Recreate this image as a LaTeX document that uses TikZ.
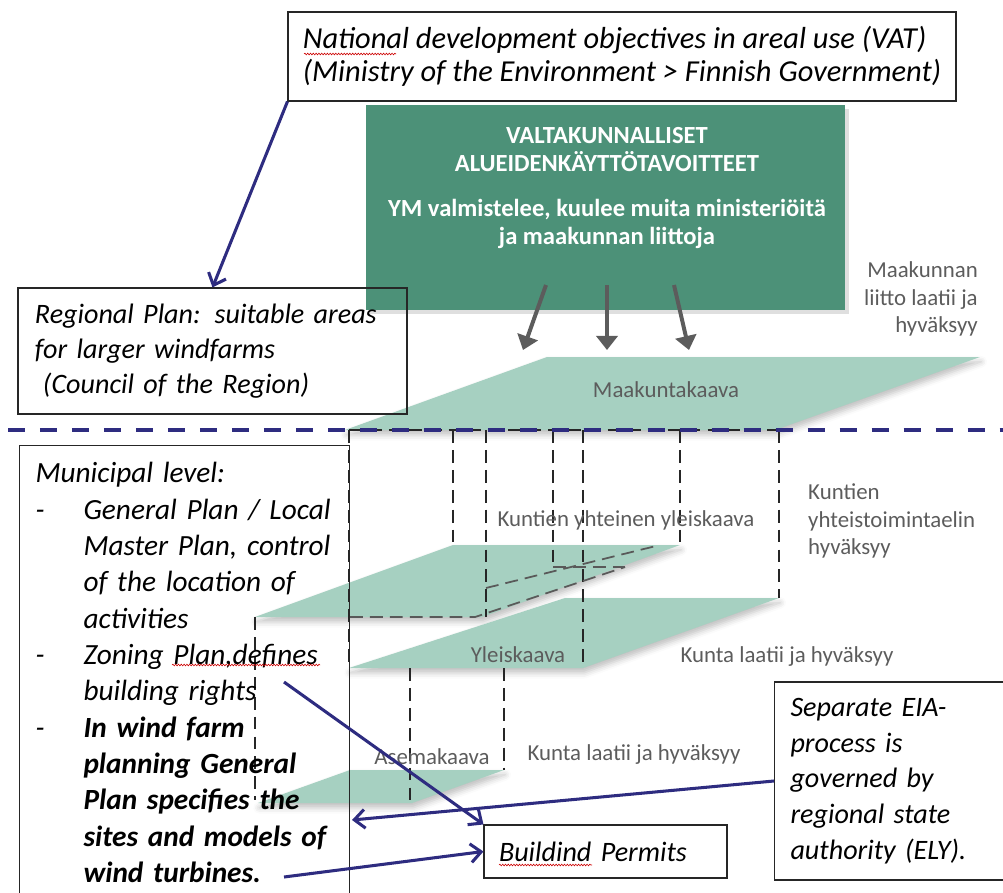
\documentclass[tikz,border=0pt]{standalone}
\usepackage{fontspec}
\setmainfont{Carlito}
\usetikzlibrary{arrows.meta,positioning,shadows,shadows.blur,decorations.pathmorphing}

\definecolor{navyline}{RGB}{46,44,128}
\definecolor{valtagreen}{RGB}{76,145,120}
\definecolor{planegreen}{RGB}{166,208,193}
\definecolor{tagtext}{RGB}{92,92,92}

\tikzset{
  note/.style={draw=black!85, line width=0.9pt, align=left, inner ysep=0pt},
  link/.style={navyline, line width=2.6pt, -{Straight Barb[length=9pt,width=16pt]}},
  feed/.style={tagtext, line width=3.4pt, -{Triangle[length=12pt,width=18pt]}},
  plane/.style={fill=planegreen, blur shadow={shadow xshift=1pt, shadow yshift=-4pt, shadow blur radius=5pt, shadow opacity=25}},
  proj/.style={black!85, line width=2.4pt, dash pattern=on 11pt off 6pt},
  hidden/.style={black!65, line width=1.5pt, dash pattern=on 11pt off 6pt},
  tag/.style={text=tagtext, font=\fontsize{19.5}{23.5}\selectfont, inner sep=0pt},
  squiggle/.style={red!80!black, line width=0.5pt, decorate, decoration={snake, amplitude=0.7pt, segment length=2.4pt}},
}

\begin{document}
\begin{tikzpicture}[x=0.03cm,y=-0.03cm]
  \useasboundingbox (0,0) rectangle (1003,893);
  \begin{scope}
  \clip (0,0) rectangle (1003,893);

  % green box and its arrows
  \node[fill=valtagreen, minimum width=14.37cm, minimum height=6.15cm, drop shadow={opacity=0.25, shadow xshift=3pt, shadow yshift=-3pt}] (valta) at (605.5,207.5) {};
  \node[text=white, align=center, font=\bfseries\fontsize{21}{24}\selectfont] (valtatext) at (607,188)
    {VALTAKUNNALLISET\\ALUEIDENKÄYTTÖTAVOITTEET\\[14pt]YM valmistelee, kuulee muita ministeriöitä\\ja maakunnan liittoja};

  % planes
  \coordinate (mk-sw) at (345,430);
  \coordinate (mk-se) at (775,430);
  \coordinate (mk-ne) at (980,357);
  \coordinate (mk-nw) at (547,357);
  \fill[plane] (mk-sw) -- (mk-se) -- (mk-ne) -- (mk-nw) -- cycle;
  \fill[plane] (255,617) -- (482,617) -- (680,545) -- (453,545) -- cycle;
  \fill[plane] (349,668) -- (583,668) -- (779,598) -- (565,598) -- cycle;
  \fill[plane] (258,803) -- (412,803) -- (504,770) -- (350,770) -- cycle;

  \coordinate (v1) at (546,285);
  \coordinate (v2) at (607,285);
  \coordinate (v3) at (674,285);
  \coordinate (m1) at (523,350);
  \coordinate (m2) at (607,350);
  \coordinate (m3) at (689,350);
  \draw[feed] (v1) -- (m1);
  \draw[feed] (v2) -- (m2);
  \draw[feed] (v3) -- (m3);

  % projections of the plans
  \draw[proj] (349,430) -- (779,430);
  \draw[proj] (349,430) -- (349,668);
  \draw[proj] (453,430) -- (453,545);
  \draw[proj] (486,430) -- (486,617);
  \draw[proj] (553,430) -- (553,567);
  \draw[proj] (583,430) -- (583,668);
  \draw[proj] (680,430) -- (680,545);
  \draw[proj] (779,430) -- (779,598);
  \draw[hidden] (350,617) -- (475,617) -- (625,567);
  \draw[hidden] (486,588) -- (660,545);
  \draw[hidden] (553,567) -- (625,567);
  \draw[proj] (255,617) -- (255,800);
  \draw[proj] (410,668) -- (410,805);
  \draw[proj] (504,668) -- (504,770);

  % level border
  \draw[navyline, line width=3.4pt, dash pattern=on 14.5pt off 12.8pt] (8,430) -- (1010,430);

  % plan labels
  \node[tag] (maakunta) at (666,390) {Maakuntakaava};
  \node[tag, anchor=east, align=right] (maakliitto) at (978,299) {Maakunnan\\liitto laatii ja\\hyväksyy};
  \node[tag] (kuntien) at (626,520) {Kuntien yhteinen yleiskaava};
  \node[tag, anchor=west, align=left] (kuntienhyv) at (808,521) {Kuntien\\yhteistoimintaelin\\hyväksyy};
  \node[tag] (yleis) at (518,655) {Yleiskaava};
  \node[tag] (yleishyv) at (787,657) {Kunta laatii ja hyväksyy};
  \node[tag] (asema) at (432,757) {Asemakaava};
  \node[tag] (asemahyv) at (634,755) {Kunta laatii ja hyväksyy};

  % notes
  \node[note, inner xsep=0pt, minimum width=20.04cm, minimum height=2.67cm, font=\itshape\fontsize{26}{28}\selectfont] (vat) at (622,56.5)
    {National development objectives in areal use (VAT)\\(Ministry of the Environment > Finnish Government)};
  \node[note, inner xsep=0.51cm, text width=10.65cm, minimum height=3.78cm, font=\itshape\fontsize{24}{30}\selectfont] (regional) at (212.5,351)
    {\mbox{Regional Plan: suitable areas}\\\mbox{for larger windfarms}\\\mbox{\hspace*{0.24cm}(Council of the Region)}};
  \node[note, anchor=north west, inner xsep=0.48cm, text width=8.94cm, minimum height=13.62cm, font=\itshape\fontsize{25}{31}\selectfont] (muni) at (19,445)
    {\mbox{Municipal level:}\\
     \mbox{\makebox[1.44cm][l]{-}General Plan / Local}\\
     \mbox{\hspace*{1.44cm}Master Plan, control}\\
     \mbox{\hspace*{1.44cm}of the location of}\\
     \mbox{\hspace*{1.44cm}activities}\\
     \mbox{\makebox[1.44cm][l]{-}Zoning Plan,defines}\\
     \mbox{\hspace*{1.44cm}building rights}\\
     \mbox{\makebox[1.44cm][l]{-}\textbf{In wind farm}}\\
     \mbox{\hspace*{1.44cm}\textbf{planning General}}\\
     \mbox{\hspace*{1.44cm}\textbf{Plan specifies the}}\\
     \mbox{\hspace*{1.44cm}\textbf{sites and models of}}\\
     \mbox{\hspace*{1.44cm}\textbf{wind turbines.}}};
  \node[note, anchor=west, inner xsep=0.48cm, text width=6.72cm, minimum height=5.94cm, font=\itshape\fontsize{24}{30.5}\selectfont] (eia) at (774,781)
    {Separate EIA-\\process is\\governed by\\regional state\\authority (ELY).};
  \node[note, inner xsep=0.45cm, text width=6.39cm, minimum height=1.59cm, font=\itshape\fontsize{24}{28}\selectfont] (permits) at (605.5,851.5)
    {\mbox{Buildind Permits}};

  % spelling marks
  \draw[squiggle] (304,54) -- (396,54);
  \draw[squiggle] (172,665) -- (320,665);
  \draw[squiggle] (499,865) -- (592,865);

  % connectors
  \coordinate (rights) at (284,682);
  \coordinate (turbines) at (284,877);
  \coordinate (eiain) at (352,820);
  \draw[link] (vat.south west) -- (regional.north);
  \draw[link] (rights) -- (permits.north west);
  \draw[link] (eia.west) -- (eiain);
  \draw[link] (turbines) -- (permits.west);
  \end{scope}
\end{tikzpicture}
\end{document}
